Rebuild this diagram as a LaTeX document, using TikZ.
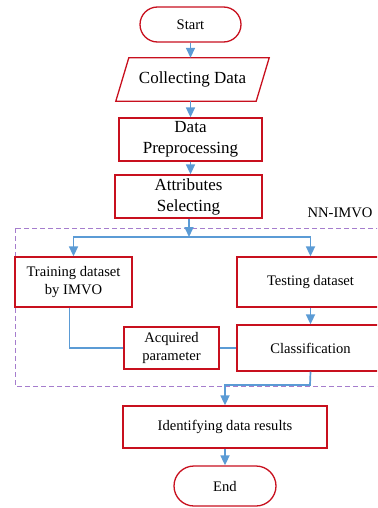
\documentclass[tikz,border=0pt]{standalone}
\usepackage{fontspec}
\setmainfont{Liberation Serif}
\usetikzlibrary{arrows.meta}
\definecolor{boxred}{RGB}{200,16,30}
\definecolor{flowblue}{RGB}{91,155,213}
\definecolor{groupviolet}{RGB}{165,125,205}
\tikzset{
  big/.style={font=\fontsize{17}{21}\selectfont},
  small/.style={font=\fontsize{14.6}{18}\selectfont},
  box/.style={draw=boxred, line width=1.3pt, align=center, inner sep=0pt},
  terminal/.style={box, small},
  redline/.style={draw=boxred, line width=1.3pt},
  flow/.style={draw=flowblue, line width=1.7pt},
  arrow/.style={flow, -{Triangle[length=10pt,width=9pt]}},
}
\begin{document}
\begin{tikzpicture}[x=1pt,y=-1pt]
\useasboundingbox (0,0) rectangle (377,508);
\clip (0,0) rectangle (377,508);

% group frame
\draw[groupviolet, line width=1pt, dash pattern=on 5pt off 3pt] (15,228) rectangle (392,386);
\node[small] (grp) at (340,213) {NN-IMVO};

% main column
\node[terminal, minimum width=101pt, minimum height=35pt, rounded corners=17.5pt] (start) at (190.5,24.5) {Start};
\node[big, align=center, inner sep=0pt, minimum width=140pt, minimum height=43pt] (collect) at (192.5,79.5) {Collecting Data};
\draw[redline, line join=miter]
  ([xshift=6.5pt]collect.north west) -- ([xshift=6.5pt]collect.north east) --
  ([xshift=-6.5pt]collect.south east) -- ([xshift=-6.5pt]collect.south west) -- cycle;
\node[box, big, minimum width=143pt, minimum height=43pt] (prep) at (190.5,139.5) {Data\\Preprocessing};
\node[box, big, minimum width=147pt, minimum height=43pt] (attr) at (188.5,196.5) {Attributes\\Selecting};

% inside the group
\node[box, small, minimum width=117pt, minimum height=50pt] (train) at (73.5,282) {Training dataset\\by IMVO};
\node[box, small, minimum width=147pt, minimum height=50pt] (test) at (310.5,282) {Testing dataset};
\node[box, small, minimum width=147pt, minimum height=46pt] (class) at (310.5,348) {Classification};
\node[box, small, minimum width=95pt, minimum height=42pt] (acq) at (171.5,348) {Acquired\\parameter};

% output
\node[box, small, minimum width=204pt, minimum height=42pt] (ident) at (225,427) {Identifying data results};
\node[terminal, minimum width=102pt, minimum height=40pt, rounded corners=20pt] (end) at (225,486) {End};

\coordinate (split) at (189,237);
\coordinate (merge) at (310,385);

% connectors
\draw[arrow] (start.south) -- (start.south |- collect.north);
\draw[arrow] (prep.north |- collect.south) -- (prep.north);
\draw[arrow] (prep.south) -- (prep.south |- attr.north);
\draw[arrow] (attr.south -| split) -- (split);
\draw[arrow] (split) -| (train.north);
\draw[arrow] (split) -| (test.north);
\draw[arrow] (test.south) -- (class.north);
\draw[flow] ([xshift=-4pt]train.south) |- (acq.west);
\draw[flow] (acq.east) -- (class.west);
\draw[arrow] (class.south) -- (merge) -| (ident.north);
\draw[arrow] (ident.south) -- (end.north);
\end{tikzpicture}
\end{document}
